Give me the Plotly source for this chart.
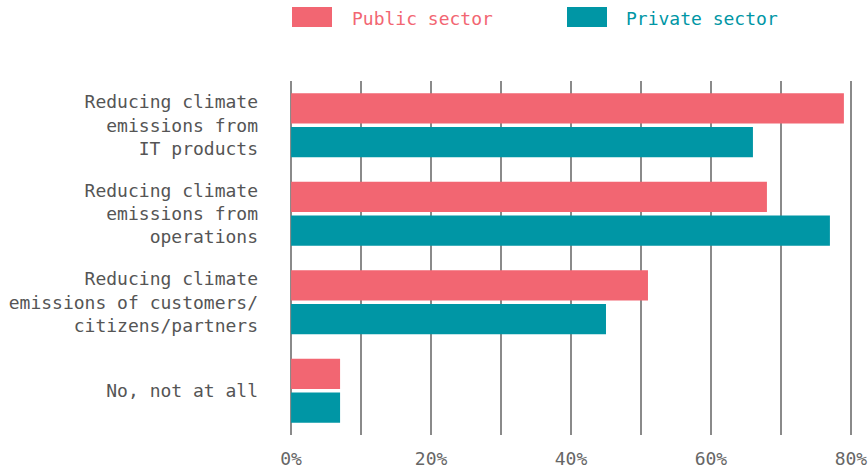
import plotly.graph_objects as go

categories = [
    "Reducing climate<br>emissions from<br>IT products",
    "Reducing climate<br>emissions from<br>operations",
    "Reducing climate<br>emissions of customers/<br>citizens/partners",
    "No, not at all",
]
series_names = ["Public sector", "Private sector"]
public_values = [79, 68, 51, 7]
private_values = [66, 77, 45, 7]
colors = ["#F26672", "#0096A5"]
x_tickvals = [0, 10, 20, 30, 40, 50, 60, 70, 80]
x_ticktext = ["0%", "", "20%", "", "40%", "", "60%", "", "80%"]

FONT = "DejaVu Sans Mono"

fig = go.Figure()
for name, vals, col in zip(series_names, [public_values, private_values], colors):
    fig.add_trace(go.Bar(
        y=categories, x=vals, name=name, orientation="h",
        marker=dict(color=col, line=dict(width=0)),
        showlegend=False,
    ))

# custom legend (wide rectangles + coloured text)
L, R, T, B = 289, 15, 81, 33
W, H = 868 - L - R, 468 - T - B
def px(x):
    return (x - L) / W
def py(y):
    return (468 - B - y) / H

legend_pos = [(292, 350), (567, 624)]
for (bx, tx), name, col in zip(legend_pos, series_names, colors):
    fig.add_shape(type="rect", xref="paper", yref="paper",
                  x0=px(bx), x1=px(bx + 40), y0=py(27), y1=py(7),
                  fillcolor=col, line=dict(width=0))
    fig.add_annotation(xref="paper", yref="paper", x=px(tx), y=py(18),
                       text=name, showarrow=False, xanchor="left", yanchor="middle",
                       font=dict(family=FONT, size=18, color=col))

fig.update_layout(
    width=868, height=468,
    margin=dict(l=L, r=R, t=T, b=B, autoexpand=False),
    paper_bgcolor="white", plot_bgcolor="white",
    barmode="group", bargap=0.24, bargroupgap=0.1,
    font=dict(family=FONT, size=18, color="#555555"),
)
fig.update_xaxes(
    range=[-0.3, 80.3], tickvals=x_tickvals, ticktext=x_ticktext,
    showgrid=True, gridcolor="#8a8a8a", gridwidth=1.5,
    zeroline=False, showline=False, ticks="", automargin=False,
    ticklabelstandoff=11,
    tickfont=dict(family=FONT, size=18, color="#666666"),
)
fig.update_yaxes(
    autorange="reversed", showgrid=False, zeroline=False, showline=False,
    ticks="", ticklabelstandoff=30, automargin=False,
    tickfont=dict(family=FONT, size=18, color="#555555"),
)

fig.write_html("out.html")
